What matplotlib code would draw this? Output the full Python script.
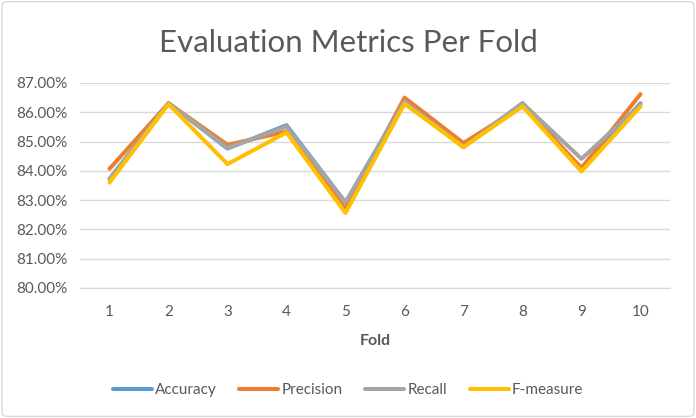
import matplotlib.pyplot as plt
from matplotlib.ticker import FuncFormatter
from matplotlib.patches import FancyBboxPatch

# Valores (%)
folds = [1, 2, 3, 4, 5, 6, 7, 8, 9, 10]
accuracy = [83.72, 86.31, 84.76, 85.56, 82.92, 86.37, 84.82, 86.31, 84.06, 86.31]
precision = [84.07, 86.31, 84.89, 85.34, 82.70, 86.50, 84.95, 86.22, 84.10, 86.62]
recall = [83.73, 86.31, 84.78, 85.51, 82.92, 86.37, 84.81, 86.31, 84.41, 86.26]
f_measure = [83.60, 86.28, 84.23, 85.31, 82.56, 86.29, 84.81, 86.20, 83.98, 86.20]

series = ['Accuracy', 'Precision', 'Recall', 'F-measure']
cores = ['#5B9BD5', '#ED7D31', '#A5A5A5', '#FFC000']

plt.rcParams['font.family'] = ['Lato', 'DejaVu Sans']
texto = '#595959'

fig = plt.figure(figsize=(6.96, 4.18), dpi=100)
fig.patches.append(FancyBboxPatch((0.003, 0.004), 0.994, 0.992, boxstyle='round,pad=0,rounding_size=0.008',
                                  transform=fig.transFigure, fill=False, edgecolor='#D9D9D9', linewidth=1))
ax = fig.add_axes([80 / 696, 1 - 288 / 418, 590 / 696, 205 / 418])

for nome, valores, cor in zip(series, [accuracy, precision, recall, f_measure], cores):
    ax.plot(folds, valores, color=cor, linewidth=2.9, label=nome, solid_joinstyle='round', solid_capstyle='round')

ax.set_xlim(0.5, 10.5)
ax.set_ylim(80, 87)
ax.set_yticks([80, 81, 82, 83, 84, 85, 86, 87])
ax.set_xticks(folds)
ax.yaxis.set_major_formatter(FuncFormatter(lambda v, pos: f'{v:.2f}%'))
ax.grid(axis='y', color='#D9D9D9', linewidth=1)
ax.set_axisbelow(True)
for s in ['top', 'right', 'left']:
    ax.spines[s].set_visible(False)
ax.spines['bottom'].set_color('#D9D9D9')
ax.tick_params(axis='y', length=0, colors=texto, labelsize=11, pad=9)
ax.tick_params(axis='x', length=0, colors=texto, labelsize=11, pad=12)

ax.set_xlabel('Fold', fontsize=11.5, fontweight='bold', color=texto, labelpad=11)
fig.text(0.5, 1 - 43 / 418, 'Evaluation Metrics Per Fold', ha='center', va='center', fontsize=22.5, color=texto)

fig.legend(loc='center', bbox_to_anchor=(0.5, 1 - 390 / 418), ncol=4, frameon=False,
           fontsize=11, labelcolor=texto, handlelength=2.55, handletextpad=0.2, columnspacing=1.5)

fig.savefig('out.png', dpi=100)
